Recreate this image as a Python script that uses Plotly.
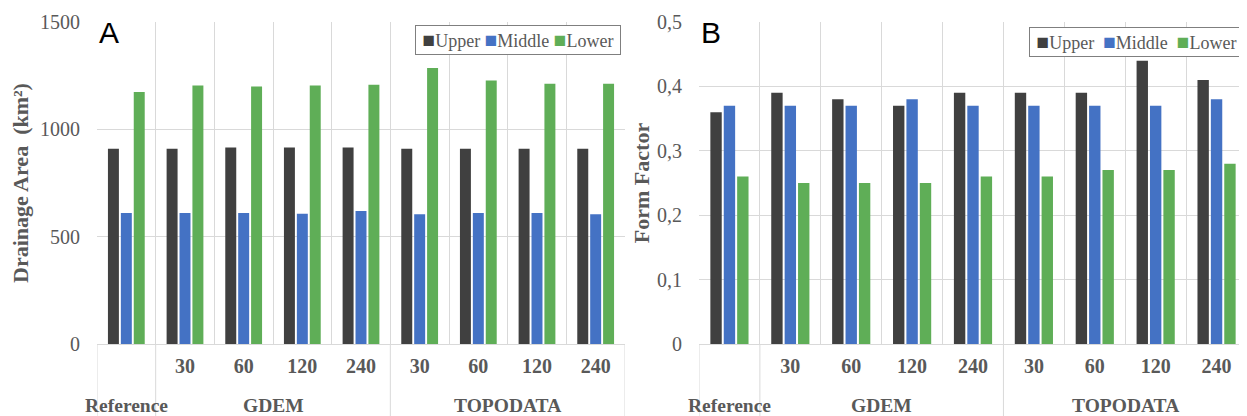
import plotly.graph_objects as go
from plotly.subplots import make_subplots

# ---- data ----
groups = ["Reference", "GDEM", "TOPODATA"]
resolutions = ["", "30", "60", "120", "240", "30", "60", "120", "240"]
group_of = ["Reference", "GDEM", "GDEM", "GDEM", "GDEM",
            "TOPODATA", "TOPODATA", "TOPODATA", "TOPODATA"]
categories = [(g + " " + r).strip() for g, r in zip(group_of, resolutions)]

series_names = ["Upper", "Middle", "Lower"]

area_upper = [910, 910, 915, 915, 915, 910, 910, 910, 910]
area_middle = [610, 610, 610, 607, 620, 605, 610, 610, 605]
area_lower = [1174, 1204, 1199, 1204, 1208, 1286, 1228, 1212, 1212]

ff_upper = [0.36, 0.39, 0.38, 0.37, 0.39, 0.39, 0.39, 0.44, 0.41]
ff_middle = [0.37, 0.37, 0.37, 0.38, 0.37, 0.37, 0.37, 0.37, 0.38]
ff_lower = [0.26, 0.25, 0.25, 0.25, 0.26, 0.26, 0.27, 0.27, 0.28]

colors = ["#404040", "#4472C4", "#5FAE57"]

# ---- figure ----
W, H = 1247, 416
OFF = 8  # page body margin compensation
fig = make_subplots(rows=1, cols=2)

for vals, name, col in zip([area_upper, area_middle, area_lower], series_names, colors):
    fig.add_trace(go.Bar(x=categories, y=vals, name=name, marker=dict(color=col, line=dict(width=0)),
                         showlegend=False), row=1, col=1)
for vals, name, col in zip([ff_upper, ff_middle, ff_lower], series_names, colors):
    fig.add_trace(go.Bar(x=categories, y=vals, name=name, marker=dict(color=col, line=dict(width=0)),
                         showlegend=False), row=1, col=2)

gray = "#595959"
grid = "#D9D9D9"
serif = "Liberation Serif"

xaxis_common = dict(
    type="category", tickvals=categories, ticktext=resolutions,
    range=[-0.5, len(categories) - 0.5], autorange=False,
    tickson="boundaries", showgrid=True, gridcolor=grid, gridwidth=1,
    ticks="", ticklabelstandoff=8, automargin=False,
    tickfont=dict(family=serif, size=20, color=gray, weight="bold"),
    showline=False, zeroline=False, fixedrange=True,
)
fig.update_xaxes(**xaxis_common)
fig.update_xaxes(domain=[(97 - OFF) / W, (625 - OFF) / W], row=1, col=1)
fig.update_xaxes(domain=[(699 - OFF) / W, (1247 - OFF) / W], row=1, col=2)

yaxis_common = dict(
    showgrid=True, gridcolor=grid, gridwidth=1, zeroline=True, zerolinecolor=grid,
    zerolinewidth=1, showline=False, ticks="", ticklabelstandoff=16, automargin=False,
    tickfont=dict(family=serif, size=20, color=gray),
    title_font=dict(family=serif, size=22, color=gray, weight="bold"),
)
fig.update_yaxes(**yaxis_common)
fig.update_yaxes(range=[0, 1500], dtick=500, title_text="Drainage Area  (km²)",
                 title_standoff=12, row=1, col=1)
fig.update_yaxes(range=[0, 0.5], dtick=0.1, tickformat=".1~f", title_text="Form Factor",
                 title_standoff=1, row=1, col=2)

PH = 322  # plot height in px
annotations = []
# group labels under category axis
group_centers = {}
for i, g in enumerate(group_of):
    group_centers.setdefault(g, []).append(i)
for xref in ["x", "x2"]:
    for g in groups:
        idx = group_centers[g]
        annotations.append(dict(
            x=(idx[0] + idx[-1]) / 2, y=-61 / PH, xref=xref, yref="paper",
            text=g, showarrow=False, yanchor="middle", xanchor="center",
            font=dict(family=serif, size=19.5, color=gray, weight="bold")))

# panel letters
for xref, yref, letter in [("x domain", "y domain", "A"), ("x2 domain", "y2 domain", "B")]:
    annotations.append(dict(x=0, y=1, xref=xref, yref=yref, text=letter, showarrow=False,
                            xanchor="left", yanchor="top", yshift=8,
                            font=dict(family="Liberation Sans", size=30, color="black")))

# legend boxes
def legend_text(gap):
    body = gap.join(
        f"<span style='color:{c};font-size:21px'>■</span>{n}" for n, c in zip(series_names, colors))
    return "&nbsp;" + body + "&nbsp;"

for xref, yref, xr, yt, gap in [("x domain", "y domain", 1 - 4 / 528, 1 - 3 / PH, " "),
                                ("x2 domain", "y2 domain", 1 - 3 / 548, 1 - 5 / PH, "  ")]:
    annotations.append(dict(x=xr, y=yt, xref=xref, yref=yref, text=legend_text(gap),
                            showarrow=False, xanchor="right", yanchor="top",
                            bordercolor="#7F7F7F", borderwidth=1, borderpad=2, bgcolor="white",
                            font=dict(family=serif, size=18, color=gray)))

# group dividers below the axis
shapes = []
boundaries = [-0.5]
for g in groups:
    boundaries.append(group_centers[g][-1] + 0.5)
for xref, yref in [("x", "y domain"), ("x2", "y2 domain")]:
    for b in boundaries:
        shapes.append(dict(type="line", x0=b, x1=b, y0=0, y1=-72 / PH, xref=xref, yref=yref,
                           line=dict(color=grid, width=1)))

fig.update_layout(
    width=W, height=H, margin=dict(l=0, r=0, t=22 - OFF, b=H - (22 - OFF) - PH, autoexpand=False),
    plot_bgcolor="white", paper_bgcolor="white",
    barmode="group", bargap=0.34, bargroupgap=0.15,
    separators=",.", showlegend=False,
    annotations=annotations, shapes=shapes,
    font=dict(family=serif, color=gray),
)

fig.write_html("out.html")
